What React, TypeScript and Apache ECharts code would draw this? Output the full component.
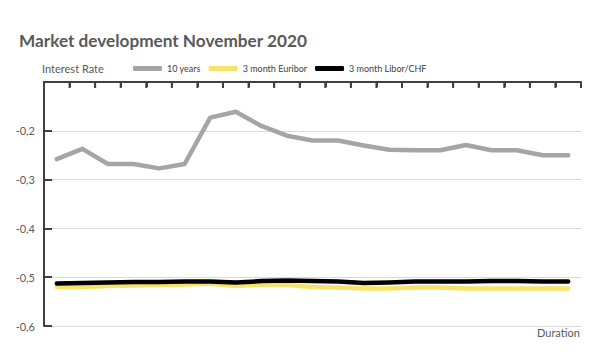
import React, { useEffect, useRef } from "react";
import * as echarts from "echarts";

const categories = [
  "Nov 2", "Nov 3", "Nov 4", "Nov 5", "Nov 6",
  "Nov 9", "Nov 10", "Nov 11", "Nov 12", "Nov 13",
  "Nov 16", "Nov 17", "Nov 18", "Nov 19", "Nov 20",
  "Nov 23", "Nov 24", "Nov 25", "Nov 26", "Nov 27",
  "Nov 30",
];

const tenYears = [
  -0.258, -0.237, -0.268, -0.268, -0.277, -0.268, -0.173, -0.161, -0.19, -0.21,
  -0.22, -0.22, -0.23, -0.239, -0.24, -0.24, -0.229, -0.24, -0.24, -0.25, -0.25,
];

const euribor = [
  -0.52, -0.52, -0.518, -0.517, -0.516, -0.515, -0.513, -0.518, -0.515, -0.516,
  -0.52, -0.521, -0.523, -0.523, -0.521, -0.521, -0.523, -0.523, -0.523, -0.523,
  -0.523,
];

const libor = [
  -0.513, -0.512, -0.511, -0.51, -0.51, -0.509, -0.509, -0.511, -0.508, -0.507,
  -0.508, -0.509, -0.512, -0.511, -0.509, -0.509, -0.509, -0.508, -0.508, -0.509,
  -0.509,
];

const yTop = -0.1;

const seriesNames = ["10 years", "3 month Euribor", "3 month Libor/CHF"];
const seriesColors = ["#a5a5a5", "#f7e26b", "#000000"];

const FONT = "Lato";
const AXIS_COLOR = "#404040";

export default function App() {
  const ref = useRef<HTMLDivElement>(null);

  useEffect(() => {
    if (!ref.current) return;
    const chart = echarts.init(ref.current, null, { renderer: "svg" });
    const data = [tenYears, euribor, libor];
    chart.setOption({
      animation: false,
      backgroundColor: "#ffffff",
      textStyle: { fontFamily: FONT },
      title: [
        {
          text: "Market development November 2020",
          left: 14,
          top: 27,
          textStyle: { fontFamily: FONT, fontSize: 17.2, fontWeight: "bold", color: "#595959" },
        },
        {
          text: "Interest Rate",
          left: 37,
          top: 58,
          textStyle: { fontFamily: FONT, fontSize: 11, fontWeight: "normal", color: "#595959" },
        },
        {
          text: "Duration",
          left: 532,
          top: 322,
          textStyle: { fontFamily: FONT, fontSize: 11, fontWeight: "normal", color: "#595959" },
        },
      ],
      legend: {
        left: 128,
        top: 59,
        itemWidth: 29,
        itemHeight: 5,
        itemGap: 8,
        icon: "roundRect",
        textStyle: { fontFamily: FONT, fontSize: 9, color: "#404040" },
        data: seriesNames,
      },
      grid: { left: 44, top: 82, width: 537, height: 244 },
      xAxis: {
        type: "category",
        position: "top",
        data: categories,
        boundaryGap: true,
        axisLine: { show: true, lineStyle: { color: AXIS_COLOR, width: 2 } },
        axisTick: { show: true, inside: true, length: 5, interval: 0, lineStyle: { color: AXIS_COLOR, width: 2 } },
        axisLabel: { show: false },
        splitLine: { show: false },
      },
      yAxis: {
        type: "value",
        min: -0.6,
        max: yTop,
        interval: 0.1,
        axisLine: { show: true, lineStyle: { color: AXIS_COLOR, width: 2 } },
        axisTick: { show: true, inside: true, length: 8, lineStyle: { color: AXIS_COLOR, width: 2 } },
        axisLabel: {
          margin: 9,
          fontFamily: FONT,
          fontSize: 11,
          color: "#595959",
          formatter: (v: number) => {
            const r = Math.round(v * 10) / 10;
            if (r === -0.1) return "";
            return r.toFixed(1).replace(".", ",");
          },
        },
        splitLine: { show: true, lineStyle: { color: "#d9d9d9", width: 1 } },
      },
      series: seriesNames.map((name, i) => ({
        name,
        type: "line",
        data: data[i],
        symbol: "none",
        itemStyle: { color: seriesColors[i] },
        lineStyle: { color: seriesColors[i], width: 4.5, cap: "round", join: "round" },
        z: 2 + i,
      })),
    });

    // Top axis line and category boundary ticks, positioned through the chart's own scales.
    try {
      const c0 = chart.convertToPixel({ xAxisIndex: 0 }, categories[0]) as number;
      const c1 = chart.convertToPixel({ xAxisIndex: 0 }, categories[1]) as number;
      const yPix = chart.convertToPixel({ yAxisIndex: 0 }, yTop) as number;
      const step = c1 - c0;
      const start = c0 - step / 2;
      const end = start + step * categories.length;
      const elements: any[] = [
        {
          type: "line",
          z: 100,
          silent: true,
          shape: { x1: start - 1, y1: yPix, x2: end, y2: yPix },
          style: { stroke: AXIS_COLOR, lineWidth: 2 },
        },
      ];
      for (let k = 0; k <= categories.length; k++) {
        const bx = start + step * k;
        elements.push({
          type: "line",
          z: 100,
          silent: true,
          shape: { x1: bx, y1: yPix, x2: bx, y2: yPix + 6 },
          style: { stroke: AXIS_COLOR, lineWidth: 2 },
        });
      }
      chart.setOption({ graphic: elements });
    } catch (e) {
      // ignore
    }
    return () => chart.dispose();
  }, []);

  return <div ref={ref} style={{ width: 600, height: 361, position: "absolute", left: 0, top: 0 }} />;
}
